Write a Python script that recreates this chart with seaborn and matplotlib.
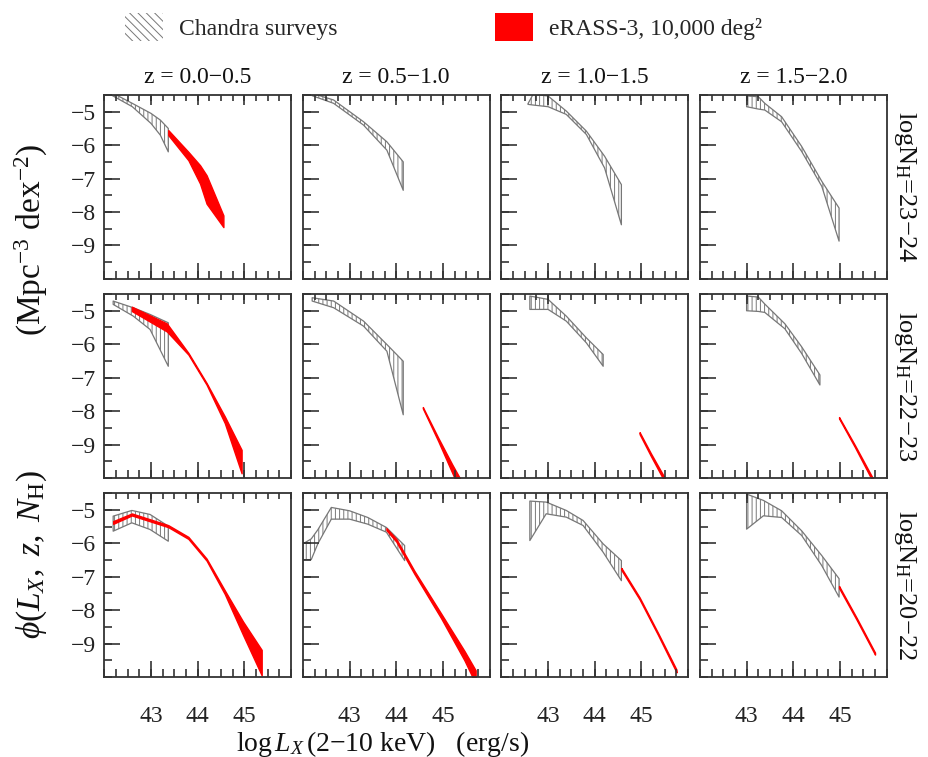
import matplotlib
matplotlib.use("Agg")
import numpy as np
import matplotlib.pyplot as plt
from matplotlib.patches import Patch
import seaborn as sns

# =====================================
# データ (読み取り値)
# =====================================

z_bins = [("0.0", "0.5"), ("0.5", "1.0"), ("1.0", "1.5"), ("1.5", "2.0")]
nh_bins = ["23-24", "22-23", "20-22"]

xtick_vals = [43, 44, 45]
ytick_vals = [-9, -8, -7, -6, -5]

# Chandra surveys: (log Lx, lower, upper) for each z bin
chandra_nh23 = [
    ([42.15, 42.6, 43.0, 43.2, 43.37], [-4.5, -4.85, -5.35, -5.7, -6.2], [-4.42, -4.75, -5.05, -5.25, -5.5]),
    ([42.2, 42.66, 43.3, 43.8, 44.15], [-4.52, -4.75, -5.4, -6.15, -7.35], [-4.45, -4.65, -5.3, -5.9, -6.5]),
    ([42.57, 42.68, 43.0, 43.39, 43.82, 44.21, 44.57], [-4.78, -4.8, -4.85, -5.08, -5.68, -6.68, -8.38],
     [-4.76, -4.48, -4.53, -4.98, -5.58, -6.33, -7.18]),
    ([43.0, 43.25, 43.39, 43.75, 44.18, 44.61, 44.98], [-4.85, -4.92, -4.95, -5.3, -6.19, -7.23, -8.87],
     [-4.53, -4.55, -4.75, -5.15, -6.04, -7.08, -7.88]),
]
chandra_nh22 = [
    ([42.19, 42.62, 42.98, 43.37], [-4.81, -5.16, -5.56, -6.66], [-4.71, -4.91, -5.11, -5.36]),
    ([42.2, 42.66, 43.3, 43.8, 44.15], [-4.71, -4.91, -5.46, -6.21, -8.11], [-4.61, -4.71, -5.31, -6.01, -6.51]),
    ([42.61, 43.0, 43.39, 43.82, 44.18], [-4.96, -4.96, -5.31, -5.96, -6.66], [-4.56, -4.66, -5.16, -5.81, -6.31]),
    ([43.0, 43.25, 43.39, 43.82, 44.18, 44.57], [-5.0, -5.02, -5.05, -5.54, -6.28, -7.22],
     [-4.56, -4.59, -4.8, -5.39, -6.08, -6.92]),
]
chandra_nh20 = [
    ([42.19, 42.59, 42.98, 43.37], [-5.64, -5.39, -5.59, -5.94], [-5.19, -5.02, -5.14, -5.49]),
    ([42.0, 42.18, 42.32, 42.61, 43.0, 43.39, 43.79, 44.18], [-6.49, -6.49, -6.02, -5.28, -5.28, -5.43, -5.67, -6.52],
     [-6.02, -5.87, -5.6, -4.93, -5.03, -5.23, -5.53, -6.07]),
    ([42.61, 42.96, 43.39, 43.75, 44.18, 44.57], [-5.92, -5.12, -5.22, -5.47, -6.27, -7.12],
     [-4.74, -4.77, -5.02, -5.32, -6.02, -6.52]),
    ([43.0, 43.36, 43.75, 44.18, 44.61, 44.98], [-5.58, -5.18, -5.23, -5.77, -6.67, -7.61],
     [-4.53, -4.72, -5.03, -5.63, -6.37, -7.06]),
]

# eRASS-3 予測 (None = 予測なし)
erass_nh23 = [
    ([43.37, 43.8, 44.05, 44.19, 44.55], [-5.7, -6.45, -7.15, -7.75, -8.45], [-5.55, -6.2, -6.6, -6.9, -8.1]),
    None,
    None,
    None,
]
erass_nh22 = [
    ([42.59, 43.34, 43.8, 44.19, 44.58, 44.94], [-5.01, -5.62, -6.31, -7.21, -8.36, -9.86],
     [-4.88, -5.38, -6.26, -7.16, -8.16, -9.16]),
    ([44.57, 44.9, 45.2, 45.4], [-7.92, -8.9, -9.85, -10.5], [-7.88, -8.8, -9.6, -10.1]),
    ([44.96, 45.2, 45.5], [-8.69, -9.34, -10.12], [-8.63, -9.26, -10.0]),
    ([44.98, 45.32, 45.7], [-8.22, -9.08, -10.1], [-8.18, -9.02, -10.0]),
]
erass_nh20 = [
    ([42.19, 42.59, 43.37, 43.8, 44.19, 44.58, 44.97, 45.37],
     [-5.42, -5.17, -5.52, -5.87, -6.52, -7.52, -8.74, -9.95],
     [-5.34, -5.11, -5.46, -5.81, -6.46, -7.41, -8.34, -9.19]),
    ([43.79, 44.0, 44.39, 44.96, 45.46, 45.7], [-5.61, -5.95, -6.92, -8.24, -9.5, -10.2],
     [-5.55, -5.87, -6.83, -8.1, -9.22, -9.8]),
    ([44.57, 44.96, 45.35, 45.75], [-6.8, -7.68, -8.73, -9.86], [-6.74, -7.62, -8.67, -9.78]),
    ([44.98, 45.36, 45.75], [-7.34, -8.3, -9.33], [-7.28, -8.24, -9.27]),
]

chandra_rows = [chandra_nh23, chandra_nh22, chandra_nh20]
erass_rows = [erass_nh23, erass_nh22, erass_nh20]

# =====================================
# スタイル
# =====================================

sns.set_theme(style="ticks")
plt.rcParams["font.family"] = ["Liberation Serif", "DejaVu Serif"]
plt.rcParams["mathtext.fontset"] = "custom"
plt.rcParams["mathtext.rm"] = "Liberation Serif"
plt.rcParams["mathtext.it"] = "Liberation Serif:italic"
plt.rcParams["mathtext.bf"] = "Liberation Serif:bold"
plt.rcParams["hatch.linewidth"] = 0.7
plt.rcParams["hatch.color"] = "#777777"

GRAY = "#777777"
RED = "#ff0000"
AXCOL = "#333333"
TXT = "#111111"

XLIM = (42, 46)
YLIM = (-10, -4.5)
x_minor = np.arange(XLIM[0], XLIM[1] + 0.01, 0.25)
y_minor = np.arange(YLIM[0], YLIM[1] + 0.01, 0.5)

fig = plt.figure(figsize=(9.29, 7.57), dpi=100)
axes = fig.subplots(3, 4, sharex=True, sharey=True)
fig.subplots_adjust(left=104.3 / 929, right=886.7 / 929, top=1 - 95 / 757,
                    bottom=1 - 677 / 757, wspace=0.0627, hspace=0.082)


def draw_ticks(ax):
    # 内向きの目盛り (下・上・左)
    xt = ax.get_xaxis_transform()
    yt = ax.get_yaxis_transform()
    kw = dict(color=AXCOL, linewidth=1.2, zorder=4, clip_on=False)
    ax.vlines(x_minor, 0, 0.043, transform=xt, **kw)
    ax.vlines(xtick_vals, 0, 0.087, transform=xt, **kw)
    ax.vlines(x_minor, 1 - 0.033, 1, transform=xt, **kw)
    ax.vlines(xtick_vals, 1 - 0.054, 1, transform=xt, **kw)
    ax.hlines(y_minor, 0, 0.043, transform=yt, **kw)
    ax.hlines(ytick_vals, 0, 0.086, transform=yt, **kw)


for i in range(3):
    for j in range(4):
        ax = axes[i, j]
        x, lo, hi = chandra_rows[i][j]
        ax.fill_between(x, lo, hi, facecolor="none", edgecolor=GRAY,
                        hatch="||||", linewidth=0.9, zorder=2)
        er = erass_rows[i][j]
        if er is not None:
            ex, elo, ehi = er
            ax.fill_between(ex, elo, ehi, facecolor=RED, edgecolor=RED,
                            linewidth=1.0, zorder=3)

        ax.set_xlim(*XLIM)
        ax.set_ylim(*YLIM)
        ax.set_xticks(xtick_vals)
        ax.set_yticks(ytick_vals)
        ax.minorticks_off()
        ax.tick_params(which="both", length=0, labelsize=17, labelcolor="#222222")
        ax.tick_params(axis="x", pad=21)
        ax.tick_params(axis="y", pad=6)
        for sp in ax.spines.values():
            sp.set_color(AXCOL)
            sp.set_linewidth(1.3)
            sp.set_zorder(4)
        draw_ticks(ax)

        if i == 0:
            zlo, zhi = z_bins[j]
            ax.text(0.5, 1.095, f"z = {zlo}\u2212{zhi}", transform=ax.transAxes,
                    ha="center", va="center", fontsize=17, color=TXT)
        if j == 3:
            nlo, nhi = nh_bins[i].split("-")
            ax.text(1.1, 0.5, f"logN$_{{\\rm H}}$={nlo}\u2212{nhi}", transform=ax.transAxes,
                    ha="center", va="center", rotation=-90, fontsize=19, color=TXT)

# 軸ラベル
fig.text(0.034, 1 - 555 / 757, r"$\phi(L_X,\ z,\ N_{\rm H})$",
         rotation=90, ha="center", va="center", fontsize=24, color=TXT)
fig.text(0.034, 1 - 240 / 757, r"(Mpc$^{-3}$ dex$^{-2}$)",
         rotation=90, ha="center", va="center", fontsize=24, color=TXT)
fig.text(0.412, 1 - 751 / 757, r"log$\,L_X\,$(2$-$10 keV)   (erg/s)",
         ha="center", va="baseline", fontsize=20, color=TXT)

# 凡例
h1 = Patch(facecolor="white", edgecolor=GRAY, hatch="\\\\\\\\", linewidth=0)
h2 = Patch(facecolor=RED, edgecolor=RED, linewidth=0)
fig.legend([h1], ["Chandra surveys"], loc="center left",
           bbox_to_anchor=(125 / 929, 1 - 27 / 757), frameon=False,
           fontsize=17, handlelength=1.6, handleheight=1.4,
           handletextpad=0.7, borderpad=0, borderaxespad=0)
fig.legend([h2], ["eRASS-3, 10,000 deg\u00b2"], loc="center left",
           bbox_to_anchor=(495 / 929, 1 - 27 / 757), frameon=False,
           fontsize=17, handlelength=1.6, handleheight=1.4,
           handletextpad=0.7, borderpad=0, borderaxespad=0)

fig.savefig("out.png", dpi=100)
